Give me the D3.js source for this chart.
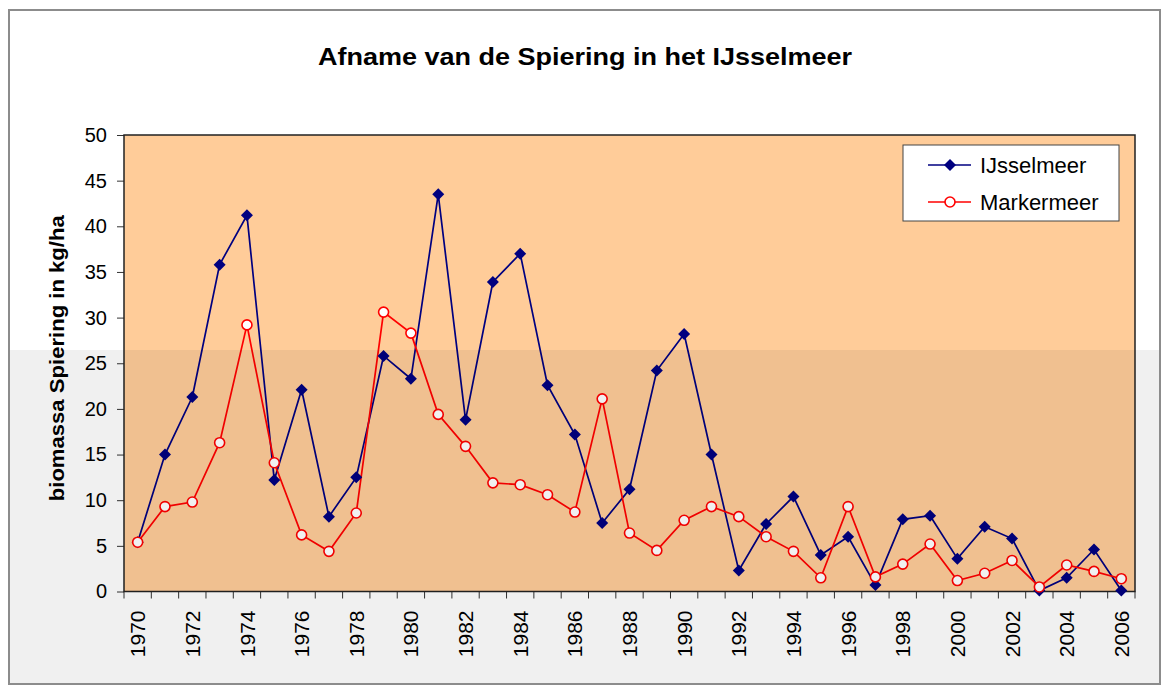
<!DOCTYPE html>
<html>
<head>
<meta charset="utf-8">
<script src="https://cdn.jsdelivr.net/npm/d3@7"></script>
<style>
  body { margin: 0; background: #fff; }
  text { font-family: Arial, "Liberation Sans", sans-serif; }
</style>
</head>
<body>
<div id="chart"></div>
<script>
const years = d3.range(1970, 2007);
const ijsselmeer = [5.4, 15.0, 21.3, 35.8, 41.2, 12.2, 22.1, 8.2, 12.5, 25.8,
    23.3, 43.5, 18.8, 33.9, 37.0, 22.6, 17.2, 7.5, 11.2, 24.2,
    28.2, 15.0, 2.3, 7.4, 10.4, 4.0, 6.0, 0.7, 7.9, 8.3,
    3.6, 7.1, 5.8, 0.1, 1.5, 4.6, 0.1];
const markermeer = [5.4, 9.3, 9.8, 16.3, 29.2, 14.1, 6.2, 4.4, 8.6, 30.6,
    28.3, 19.4, 15.9, 11.9, 11.7, 10.6, 8.7, 21.1, 6.4, 4.5,
    7.8, 9.3, 8.2, 6.0, 4.4, 1.5, 9.3, 1.6, 3.0, 5.2,
    1.2, 2.0, 3.4, 0.5, 2.9, 2.2, 1.4];
const yTicks = d3.range(0, 51, 5);
const seriesNames = ['IJsselmeer', 'Markermeer'];

const width = 1165, height = 686;
const plotLeft = 124, plotRight = 1135, plotTop = 135, plotBottom = 591.5;

const svg = d3.select('#chart')
    .append('svg')
        .attr('width', width)
        .attr('height', height);

// chart area
svg.append('rect')
    .attr('x', 9).attr('y', 10)
    .attr('width', 1151).attr('height', 674)
    .attr('fill', '#fff')
    .attr('stroke', '#8c8c8c')
    .attr('stroke-width', 2);

svg.append('text')
    .attr('x', 585)
    .attr('y', 65)
    .attr('text-anchor', 'middle')
    .attr('font-size', '24px')
    .attr('font-weight', 'bold')
    .attr('textLength', 534)
    .attr('lengthAdjust', 'spacingAndGlyphs')
    .text('Afname van de Spiering in het IJsselmeer');

const x = d3.scaleBand()
    .domain(years)
    .range([plotLeft, plotRight]);
const y = d3.scaleLinear()
    .domain([0, 50])
    .range([plotBottom, plotTop]);
const cx = d => x(d) + x.bandwidth() / 2;

// plot area
svg.append('rect')
    .attr('x', plotLeft).attr('y', plotTop)
    .attr('width', plotRight - plotLeft)
    .attr('height', plotBottom - plotTop)
    .attr('fill', '#FFCC99');

// y axis
const yAxis = svg.append('g')
    .attr('transform', `translate(${plotLeft},0)`)
    .call(d3.axisLeft(y).tickValues(yTicks).tickSize(7).tickPadding(10));
yAxis.select('.domain').remove();
yAxis.selectAll('line').attr('stroke', '#333');
yAxis.selectAll('text')
    .attr('font-size', '20px')
    .attr('fill', '#000')
    .style('font-family', 'Arial, "Liberation Sans", sans-serif');

svg.append('text')
    .attr('transform', `translate(64,${(plotTop + plotBottom) / 2 - 5}) rotate(-90)`)
    .attr('text-anchor', 'middle')
    .attr('font-size', '20px')
    .attr('font-weight', 'bold')
    .attr('textLength', 286)
    .attr('lengthAdjust', 'spacingAndGlyphs')
    .text('biomassa Spiering in kg/ha');

// x axis: ticks between categories, labels every other year
const xTickPos = years.map(d => x(d)).concat([x.range()[1]]);
svg.append('g')
    .selectAll('line')
    .data(xTickPos)
    .join('line')
        .attr('x1', d => d).attr('x2', d => d)
        .attr('y1', plotBottom).attr('y2', plotBottom + 7)
        .attr('stroke', '#333');

svg.append('g')
    .selectAll('text')
    .data(years.filter(d => d % 2 === 0))
    .join('text')
        .attr('transform', d => `translate(${cx(d)},${plotBottom + 19}) rotate(-90)`)
        .attr('text-anchor', 'end')
        .attr('dy', '0.36em')
        .attr('font-size', '21px')
        .text(d => d);

// plot border
svg.append('rect')
    .attr('x', plotLeft).attr('y', plotTop)
    .attr('width', plotRight - plotLeft)
    .attr('height', plotBottom - plotTop)
    .attr('fill', 'none')
    .attr('stroke', '#222')
    .attr('stroke-width', 1.5);

const line = d3.line()
    .x((d, i) => cx(years[i]))
    .y(d => y(d));

svg.append('path')
    .datum(ijsselmeer)
    .attr('d', line)
    .attr('fill', 'none')
    .attr('stroke', '#000080')
    .attr('stroke-width', 1.7);

svg.append('path')
    .datum(markermeer)
    .attr('d', line)
    .attr('fill', 'none')
    .attr('stroke', '#FF0000')
    .attr('stroke-width', 1.7);

const diamond = d3.symbol(d3.symbolSquare, 72);

svg.append('g')
    .selectAll('path')
    .data(ijsselmeer)
    .join('path')
        .attr('d', diamond)
        .attr('transform', (d, i) => `translate(${cx(years[i])},${y(d)}) rotate(45)`)
        .attr('fill', '#000080');

svg.append('g')
    .selectAll('circle')
    .data(markermeer)
    .join('circle')
        .attr('cx', (d, i) => cx(years[i]))
        .attr('cy', d => y(d))
        .attr('r', 5)
        .attr('fill', '#fff')
        .attr('stroke', '#FF0000')
        .attr('stroke-width', 1.6);

// legend
const legend = svg.append('g').attr('transform', 'translate(903,145)');
legend.append('rect')
    .attr('width', 216).attr('height', 76)
    .attr('fill', '#fff')
    .attr('stroke', '#444')
    .attr('stroke-width', 1);

const legendRows = legend.selectAll('g')
    .data(seriesNames)
    .join('g')
        .attr('transform', (d, i) => `translate(0,${20 + i * 37})`);
legendRows.append('line')
    .attr('x1', 25).attr('x2', 68)
    .attr('stroke', (d, i) => i === 0 ? '#000080' : '#FF0000')
    .attr('stroke-width', 1.7);
legendRows.filter((d, i) => i === 0)
    .append('path')
        .attr('d', diamond)
        .attr('transform', 'translate(47,0) rotate(45)')
        .attr('fill', '#000080');
legendRows.filter((d, i) => i === 1)
    .append('circle')
        .attr('cx', 47)
        .attr('r', 5)
        .attr('fill', '#fff')
        .attr('stroke', '#FF0000')
        .attr('stroke-width', 1.6);
legendRows.append('text')
    .attr('x', 77)
    .attr('dy', '0.35em')
    .attr('font-size', '22px')
    .text(d => d);

// grey shade over the lower part of the picture
svg.append('rect')
    .attr('x', 10).attr('y', 350)
    .attr('width', 1149).attr('height', 333)
    .attr('fill', '#000')
    .attr('opacity', 0.06)
    .attr('pointer-events', 'none');
</script>
</body>
</html>
